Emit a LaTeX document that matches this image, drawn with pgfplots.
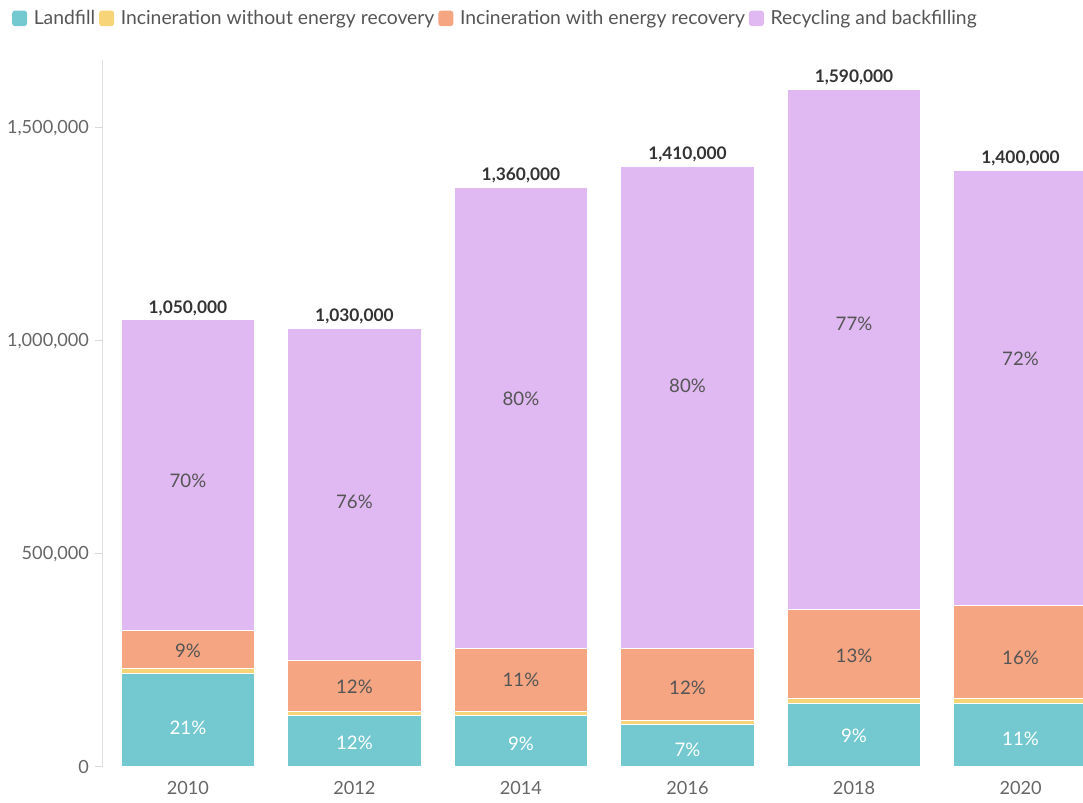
\documentclass[border=0pt]{standalone}
\usepackage{pgfplots}
\pgfplotsset{compat=1.18}
\usepackage{pgfplotstable}
\usepackage{fontspec}
\setmainfont{Lato}
\definecolor{cLand}{HTML}{74C9D1}
\definecolor{cWo}{HTML}{F8D478}
\definecolor{cWith}{HTML}{F5A582}
\definecolor{cRec}{HTML}{E0B8F2}
\definecolor{cTick}{HTML}{666666}
\definecolor{cLab}{HTML}{555555}
\definecolor{cTot}{HTML}{333333}

\pgfplotstableread{
x land wo with rec
0 220000 10000 90000 730000
1 120000 10000 120000 780000
2 120000 10000 149000 1081000
3 99000 10000 170000 1131000
4 148000 12000 209000 1221000
5 148000 12000 218000 1022000
}\bars

\pgfplotstableread{
x y label
0 92000 21\%
1 56000 12\%
2 54000 9\%
3 40000 7\%
4 73000 9\%
5 66000 11\%
}\landlab

\pgfplotstableread{
x y label
0 272000 9\%
1 188000 12\%
2 204000 11\%
3 185000 12\%
4 261000 13\%
5 256000 16\%
0 671000 70\%
1 622000 76\%
2 864000 80\%
3 894000 80\%
4 1040000 77\%
5 958000 72\%
}\otherlab

\pgfplotstableread{
x y label
0 1050000 {1,050,000}
1 1030000 {1,030,000}
2 1360000 {1,360,000}
3 1410000 {1,410,000}
4 1590000 {1,590,000}
5 1400000 {1,400,000}
}\totlab

\begin{document}
\begin{tikzpicture}
\useasboundingbox (-77.25pt,-27pt) rectangle (735pt,575.25pt);
\begin{axis}[
  at={(0pt,0pt)}, anchor=south west,
  scale only axis, width=735pt, height=530.25pt,
  ybar stacked, bar width=0.8,
  xmin=-0.51, xmax=5.375, ymin=0, ymax=1659000,
  axis x line=bottom, axis y line=left, axis line style={-},
  x axis line style={draw=none},
  y axis line style={draw=black!12, line width=0.75pt},
  xtick=data, xticklabels={2010,2012,2014,2016,2018,2020},
  xtick style={draw=none},
  ytick={0,500000,1000000,1500000},
  yticklabels={0,{500,000},{1,000,000},{1,500,000}},
  scaled y ticks=false,
  ytick style={draw=black!15, line width=0.75pt},
  tick align=outside, major tick length=6pt,
  tick label style={font=\fontsize{13.6}{16}\selectfont, text=cTick},
  yticklabel style={xshift=-1pt},
  xticklabel style={yshift=-1pt},
  legend style={at={(-0.093,1.0745)}, anchor=north west, draw=none, fill=none,
    legend columns=-1, font=\fontsize{14.5}{17}\selectfont, text=cLab,
    /tikz/every odd column/.append style={column sep=3pt},
    /tikz/every even column/.append style={column sep=1pt},
    legend cell align=left, inner sep=0pt},
]
\addplot[fill=cLand, draw=white, line width=0.75pt,
  legend image code/.code={\fill[cLand, rounded corners=2pt] (0pt,-5.5pt) rectangle (10.5pt,5.5pt);}]
  table[x=x, y=land] {\bars};
\addlegendentry{Landfill}
\addplot[fill=cWo, draw=white, line width=0.75pt,
  legend image code/.code={\fill[cWo, rounded corners=2pt] (0pt,-5.5pt) rectangle (10.5pt,5.5pt);}]
  table[x=x, y=wo] {\bars};
\addlegendentry{Incineration without energy recovery}
\addplot[fill=cWith, draw=white, line width=0.75pt,
  legend image code/.code={\fill[cWith, rounded corners=2pt] (0pt,-5.5pt) rectangle (10.5pt,5.5pt);}]
  table[x=x, y=with] {\bars};
\addlegendentry{Incineration with energy recovery}
\addplot[fill=cRec, draw=white, line width=0.75pt,
  legend image code/.code={\fill[cRec, rounded corners=2pt] (0pt,-5.5pt) rectangle (10.5pt,5.5pt);}]
  table[x=x, y=rec] {\bars};
\addlegendentry{Recycling and backfilling}
\end{axis}
\begin{axis}[
  at={(0pt,0pt)}, anchor=south west,
  scale only axis, width=735pt, height=530.25pt,
  xmin=-0.51, xmax=5.375, ymin=0, ymax=1659000,
  hide axis, clip=false,
]
\addplot[draw=none, mark=none, nodes near coords, point meta=explicit symbolic,
  every node near coord/.style={anchor=center, text=white, font=\fontsize{14}{16}\selectfont}]
  table[x=x, y=y, meta=label] {\landlab};
\addplot[draw=none, mark=none, nodes near coords, point meta=explicit symbolic,
  every node near coord/.style={anchor=center, text=cLab, font=\fontsize{14}{16}\selectfont}]
  table[x=x, y=y, meta=label] {\otherlab};
\addplot[draw=none, mark=none, nodes near coords, point meta=explicit symbolic,
  every node near coord/.style={anchor=south, yshift=-0.5pt, text=cTot, font=\fontsize{13}{15}\selectfont\bfseries}]
  table[x=x, y=y, meta=label] {\totlab};
\end{axis}
\end{tikzpicture}
\end{document}
